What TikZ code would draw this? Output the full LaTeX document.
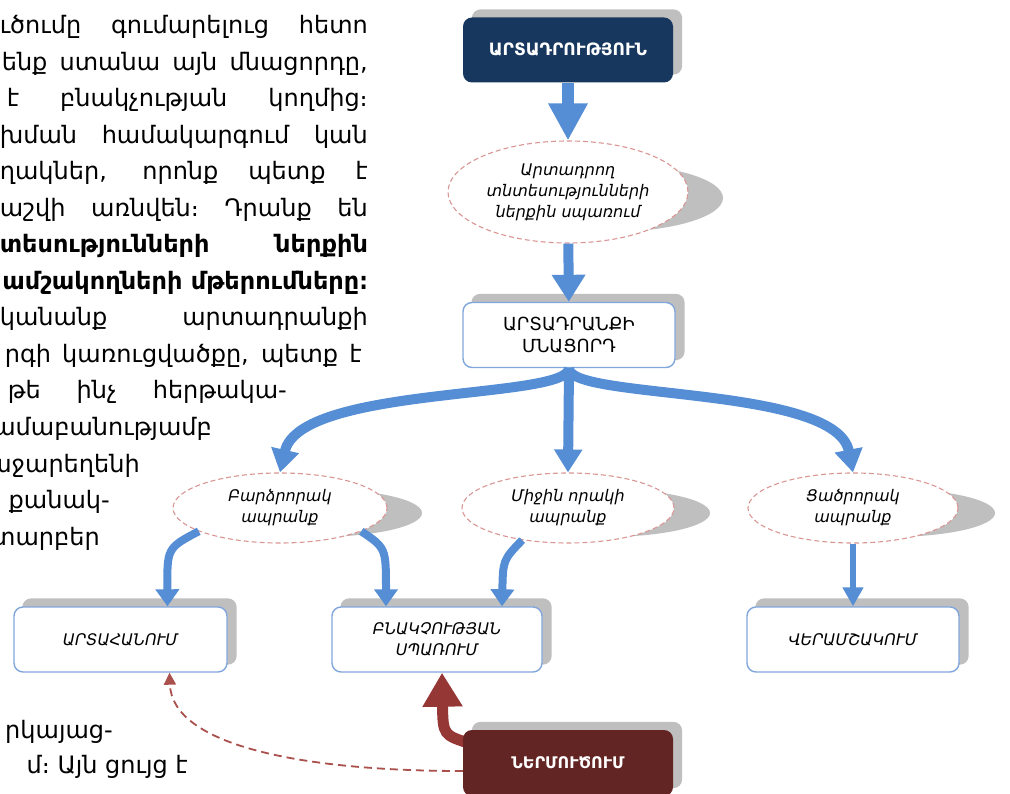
\documentclass[tikz,border=0pt]{standalone}
\usepackage{fontspec}
\setmainfont{DejaVu Sans}
\usetikzlibrary{arrows.meta,calc,shapes.geometric,backgrounds}

\definecolor{navybox}{RGB}{23,55,94}
\definecolor{arrowblue}{RGB}{85,142,213}
\definecolor{boxedge}{RGB}{128,166,220}
\definecolor{greyshade}{RGB}{191,191,191}
\definecolor{dashpink}{RGB}{217,150,148}
\definecolor{wine}{RGB}{99,37,35}
\definecolor{winearrow}{RGB}{149,55,53}
\definecolor{dashwine}{RGB}{170,80,77}

\newcommand{\jline}[2]{\makebox[#1pt][s]{#2}}

\begin{document}
\begin{tikzpicture}[x=1pt, y=-1pt,
  para/.style={inner sep=0pt, anchor=base east, font=\fontsize{24}{29}\selectfont},
  darkbox/.style={rounded corners=9pt, minimum width=210pt, minimum height=65pt,
    align=center, text=white, font=\fontsize{17}{21}\selectfont\bfseries},
  lightbox/.style={draw=boxedge, line width=1.4pt, fill=white, rounded corners=9pt,
    minimum width=212pt, minimum height=65pt, align=center, inner sep=0pt},
  oval/.style={ellipse, draw=dashpink, line width=1.1pt, dash pattern=on 5pt off 3pt,
    fill=white, inner sep=0pt, align=center, font=\fontsize{16}{21}\selectfont\itshape},
  greyshadow/.style={fill=greyshade, rounded corners=9pt},
  fatarr/.style={draw=arrowblue, line width=12pt, -{Triangle[width=37pt,length=37pt]}},
  brarr/.style={draw=arrowblue, line width=10pt, -{Triangle[width=27pt,length=23pt]}},
  smarr/.style={draw=arrowblue, line width=8pt, -{Triangle[width=23pt,length=17pt]}},
  thinarr/.style={draw=arrowblue, line width=6pt, -{Triangle[width=20pt,length=19pt]}},
  redarr/.style={draw=winearrow, line width=11pt, -{Triangle[width=38pt,length=34pt]}},
  dasharr/.style={draw=dashwine, line width=1.8pt, dash pattern=on 8pt off 5pt,
    -{Triangle[width=12pt,length=12pt]}}
]
\useasboundingbox (0,0) rectangle (1010,794);
\clip (0,0) rectangle (1010,794);

% text of the page, cut at the left edge
\node[para] (p1)  at (368,34)    {\jline{368}{ւծումը գումարելուց հետո}};
\node[para] (p2)  at (368,70.5)  {\jline{366}{ենք ստանա այն մնացորդը,}};
\node[para] (p3)  at (368,107)   {\jline{361}{է բնակչության կողմից։}};
\node[para] (p4)  at (368,143.5) {\jline{368}{խման համակարգում կան}};
\node[para] (p5)  at (368,180)   {\jline{368}{ղակներ, որոնք պետք է}};
\node[para] (p6)  at (368,216.5) {\jline{368}{աշվի առնվեն։ Դրանք են}};
\node[para, font=\fontsize{24}{29}\selectfont\bfseries] (p7) at (368,253) {\jline{368}{տեսությունների ներքին}};
\node[para, font=\fontsize{24}{29}\selectfont\bfseries] (p8) at (368,289.5) {ամշակողների մթերումները։};
\node[para] (p9)  at (368,326)   {\jline{368}{կանանք արտադրանքի}};
\node[para] (p10) at (362,362.5) {\jline{357}{րգի կառուցվածքը, պետք է}};
\node[para] (p11) at (287,399)   {\jline{279}{թե ինչ հերթակա-}};
\node[para] (p12) at (212,435.5) {ամաբանությամբ};
\node[para] (p13) at (140,472)   {աջարեղենի};
\node[para] (p14) at (110,508.5) {քանակ-};
\node[para] (p15) at (100,545)   {տարբեր};
\node[para] (b1)  at (113,738)   {րկայաց-};
\node[para] (b2)  at (188,773)   {մ։ Այն ցույց է};

% boxes and ovals
\node[darkbox, fill=navybox] (top) at (568,50) {ԱՐՏԱԴՐՈՒԹՅՈՒՆ};
\node[oval, minimum width=240pt, minimum height=102pt] (e1) at (568,192)
  {Արտադրող\\տնտեսությունների\\ներքին սպառում};
\node[lightbox, font=\fontsize{18}{22}\selectfont] (box2) at (569,335) {ԱՐՏԱԴՐԱՆՔԻ\\ՄՆԱՑՈՐԴ};
\node[oval, minimum width=214pt, minimum height=70pt] (el) at (280,508) {Բարձրորակ\\ապրանք};
\node[oval, minimum width=212pt, minimum height=70pt] (em) at (568,508) {Միջին որակի\\ապրանք};
\node[oval, minimum width=210pt, minimum height=70pt] (er) at (853,508) {Ցածրորակ\\ապրանք};
\node[lightbox, minimum width=213pt, font=\fontsize{16}{21}\selectfont\itshape] (A) at (120.5,639.5) {ԱՐՏԱՀԱՆՈՒՄ};
\node[lightbox, minimum width=210pt, font=\fontsize{16}{21}\selectfont\itshape] (B) at (437,639.5) {ԲՆԱԿՉՈՒԹՅԱՆ\\ՍՊԱՌՈՒՄ};
\node[lightbox, font=\fontsize{16}{21}\selectfont\itshape] (V) at (853,639.5) {ՎԵՐԱՄՇԱԿՈՒՄ};

% arrows
\draw[fatarr] (top) -- (e1);
\draw[brarr, -{Triangle[width=32pt,length=27pt]}] (e1) -- (box2);
\draw[brarr] (box2.south) .. controls (568,400) and (300,385) .. (el.north);
\draw[brarr] (box2.south) -- (em.north);
\draw[brarr] (box2.south) .. controls (568,400) and (836,385) .. (er.north);
\draw[smarr] (el.196) .. controls (167,548) .. ($(A.north)+(47,0)$);
\draw[smarr] (el.344) .. controls (386,548) .. ($(B.north)+(-51,0)$);
\draw[smarr] (em.215) .. controls (503,560) .. ($(B.north)+(65,0)$);
\draw[thinarr] (er) -- (V);

\node[darkbox, fill=wine, minimum height=66pt, font=\fontsize{16}{20}\selectfont\bfseries] (R) at (568,763) {ՆԵՐՄՈՒԾՈՒՄ};
\begin{scope}[on background layer]
  \draw[redarr] ($(R.north west)+(8,14)$) .. controls (443,735) .. ($(B.south)+(5,0)$);
  \draw[dasharr] ($(R.west)+(0,8)$) .. controls (300,771) and (172,745) .. ($(A.south)+(49,0)$);
\end{scope}

% shadows
\begin{scope}[on background layer]
  \foreach \b in {top,box2,A,B,V,R}
    \fill[greyshadow] ($(\b.south west)+(9,-8)$) rectangle ($(\b.north east)+(9,-8)$);
  \fill[greyshade] ($(e1)+(40,6)$) ellipse [x radius=115pt, y radius=34pt];
  \foreach \e in {el,em,er}
    \fill[greyshade] ($(\e)+(36,5)$) ellipse [x radius=106pt, y radius=24pt];
\end{scope}
\end{tikzpicture}
\end{document}
